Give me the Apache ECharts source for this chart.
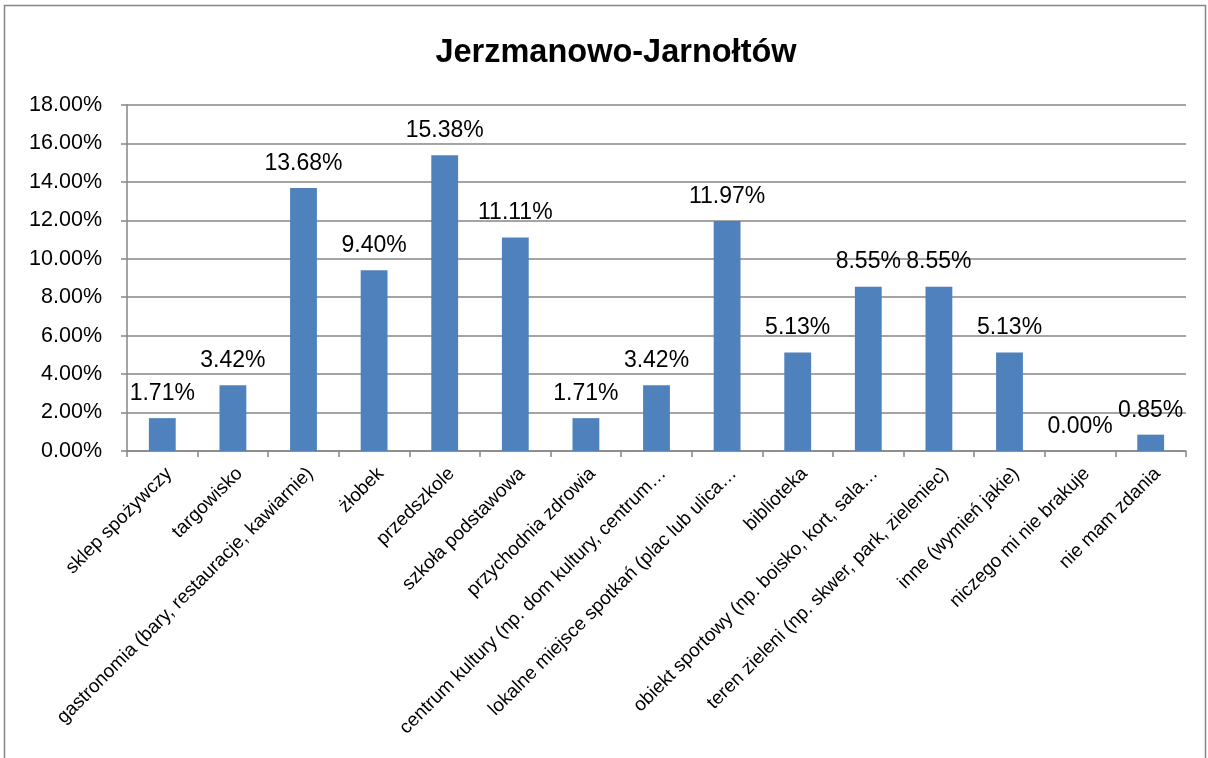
<!DOCTYPE html>
<html lang="pl">
<head>
    <meta http-equiv="Content-Type" content="text/html; charset=utf-8"/>
    <title>Jerzmanowo-Jarnołtów</title>
    <script src="https://cdn.jsdelivr.net/npm/echarts@6/dist/echarts.min.js"></script>
    <style type="text/css">
        html, body {
            height: 100%;
            margin: 0;
            background: #fff;
        }
        #main_1 {
            width: 1208px;
            height: 758px;
        }
    </style>
</head>
<body>
<div id="main_1"></div>
<script>
    var chartTitle = 'Jerzmanowo-Jarnołtów';

    var categories = [
        'sklep spożywczy',
        'targowisko',
        'gastronomia (bary, restauracje, kawiarnie)',
        'żłobek',
        'przedszkole',
        'szkoła podstawowa',
        'przychodnia zdrowia',
        'centrum kultury (np. dom kultury, centrum…',
        'lokalne miejsce spotkań (plac lub ulica…',
        'biblioteka',
        'obiekt sportowy (np. boisko, kort, sala…',
        'teren zieleni (np. skwer, park, zieleniec)',
        'inne (wymień jakie)',
        'niczego mi nie brakuje',
        'nie mam zdania'
    ];

    var values = [1.71, 3.42, 13.68, 9.40, 15.38, 11.11, 1.71, 3.42, 11.97, 5.13, 8.55, 8.55, 5.13, 0.00, 0.85];

    var yMin = 0, yMax = 18, yStep = 2;

    var font = '"Liberation Sans", Arial, sans-serif';

    var myChart = echarts.init(document.getElementById('main_1'));

    var option = {
        backgroundColor: '#fff',
        animation: false,
        textStyle: {fontFamily: font},
        title: {
            text: chartTitle,
            left: 611,
            textAlign: 'center',
            top: 32,
            textStyle: {fontFamily: font, fontSize: 32.5, fontWeight: 'bold', color: '#000'}
        },
        graphic: [{
            type: 'rect',
            shape: {x: 4.5, y: 5.5, width: 1201, height: 800},
            style: {fill: 'none', stroke: '#868686', lineWidth: 1.5},
            silent: true
        }],
        grid: {left: 127, right: 22, top: 105, bottom: 307},
        xAxis: {
            type: 'category',
            data: categories,
            axisLine: {lineStyle: {color: '#868686', width: 1.5}},
            axisTick: {show: true, alignWithLabel: false, length: 6, lineStyle: {color: '#868686', width: 1.5}},
            axisLabel: {
                interval: 0,
                rotate: 45,
                margin: 13,
                verticalAlign: 'top',
                color: '#000',
                fontSize: 19,
                fontFamily: font
            }
        },
        yAxis: {
            type: 'value',
            min: yMin,
            max: yMax,
            interval: yStep,
            axisLine: {show: true, lineStyle: {color: '#868686', width: 1.5}},
            axisTick: {show: true, length: 6, lineStyle: {color: '#868686', width: 1.5}},
            splitLine: {lineStyle: {color: '#868686', width: 1.5}},
            axisLabel: {
                color: '#000',
                fontSize: 21.5,
                margin: 25,
                fontFamily: font,
                formatter: function (v) { return v.toFixed(2) + '%'; }
            }
        },
        series: [{
            type: 'bar',
            data: values,
            barWidth: '38%',
            itemStyle: {color: '#4F81BD'},
            label: {
                show: true,
                position: 'top',
                distance: 13,
                color: '#000',
                fontSize: 23,
                fontFamily: font,
                formatter: function (p) { return p.value.toFixed(2) + '%'; }
            }
        }]
    };

    myChart.setOption(option);
</script>
</body>
</html>
